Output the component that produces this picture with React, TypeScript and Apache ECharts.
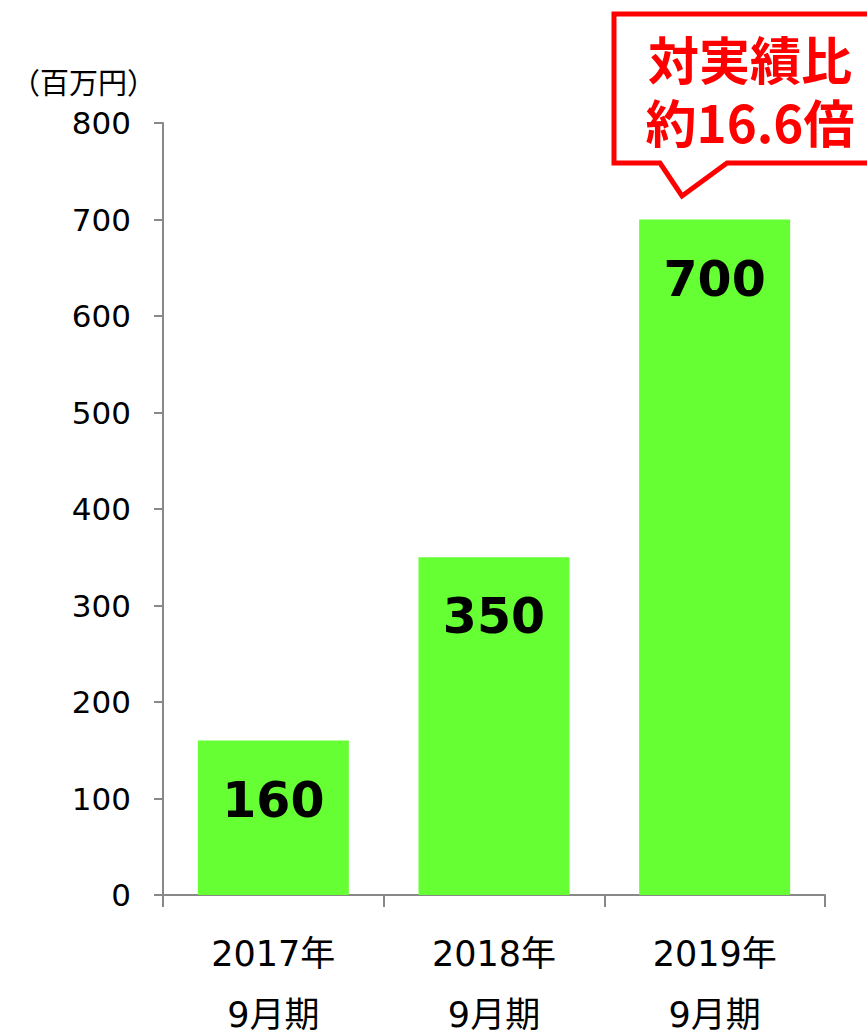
import React, { useEffect, useRef } from "react";
import * as echarts from "echarts";

const categories = ["2017年\n9月期", "2018年\n9月期", "2019年\n9月期"];
const values = [160, 350, 700];
const unitLabel = "（百万円）";
const calloutLines = ["対実績比", "約16.6倍"];

export default function App() {
  const ref = useRef<HTMLDivElement>(null);
  useEffect(() => {
    const chart = echarts.init(ref.current!, null, { renderer: "svg" });
    const font = "'DejaVu Sans', 'Noto Sans CJK JP', sans-serif";
    const cjk = "'Noto Sans CJK JP', sans-serif";
    chart.setOption({
      animation: false,
      backgroundColor: "#ffffff",
      grid: { left: 163, right: 42, top: 123, bottom: 137, outerBoundsMode: "none", containLabel: false },
      xAxis: {
        type: "category",
        data: categories,
        axisLine: { lineStyle: { color: "#888888", width: 2 } },
        axisTick: { show: true, length: 12, lineStyle: { color: "#888888", width: 2 } },
        axisLabel: { color: "#000000", fontSize: 35, fontFamily: font, lineHeight: 61, margin: 28 },
      },
      yAxis: {
        type: "value",
        min: 0,
        max: 800,
        interval: 100,
        splitLine: { show: false },
        axisLine: { show: true, lineStyle: { color: "#888888", width: 2 } },
        axisTick: { show: true, length: 9, lineStyle: { color: "#888888", width: 2 } },
        axisLabel: { color: "#000000", fontSize: 31, fontFamily: font, margin: 32 },
      },
      series: [
        {
          type: "bar",
          data: values,
          barWidth: 151,
          itemStyle: { color: "#66FF33" },
          label: {
            show: true,
            position: "insideTop",
            distance: 35,
            color: "#000000",
            fontSize: 49,
            fontWeight: "bold",
            fontFamily: font,
          },
        },
      ],
      graphic: [
        {
          type: "text",
          x: 11,
          y: 81,
          style: { text: unitLabel, fontSize: 29, fill: "#000000", fontFamily: cjk, verticalAlign: "middle" },
        },
        {
          type: "polygon",
          shape: {
            points: [
              [614, 14],
              [885, 14],
              [885, 163],
              [727, 163],
              [682, 196],
              [660, 163],
              [614, 163],
            ],
          },
          style: { fill: "#ffffff", stroke: "#ff0000", lineWidth: 5 },
        },
        {
          type: "text",
          x: 750,
          y: 89,
          style: {
            text: calloutLines.join("\n"),
            fontSize: 51,
            lineHeight: 63,
            fontWeight: "bold",
            fill: "#ff0000",
            align: "center",
            verticalAlign: "middle",
            fontFamily: cjk,
          },
        },
      ],
    });
    return () => chart.dispose();
  }, []);
  return <div ref={ref} style={{ width: 867, height: 1032, position: "absolute", left: 0, top: 0 }} />;
}
